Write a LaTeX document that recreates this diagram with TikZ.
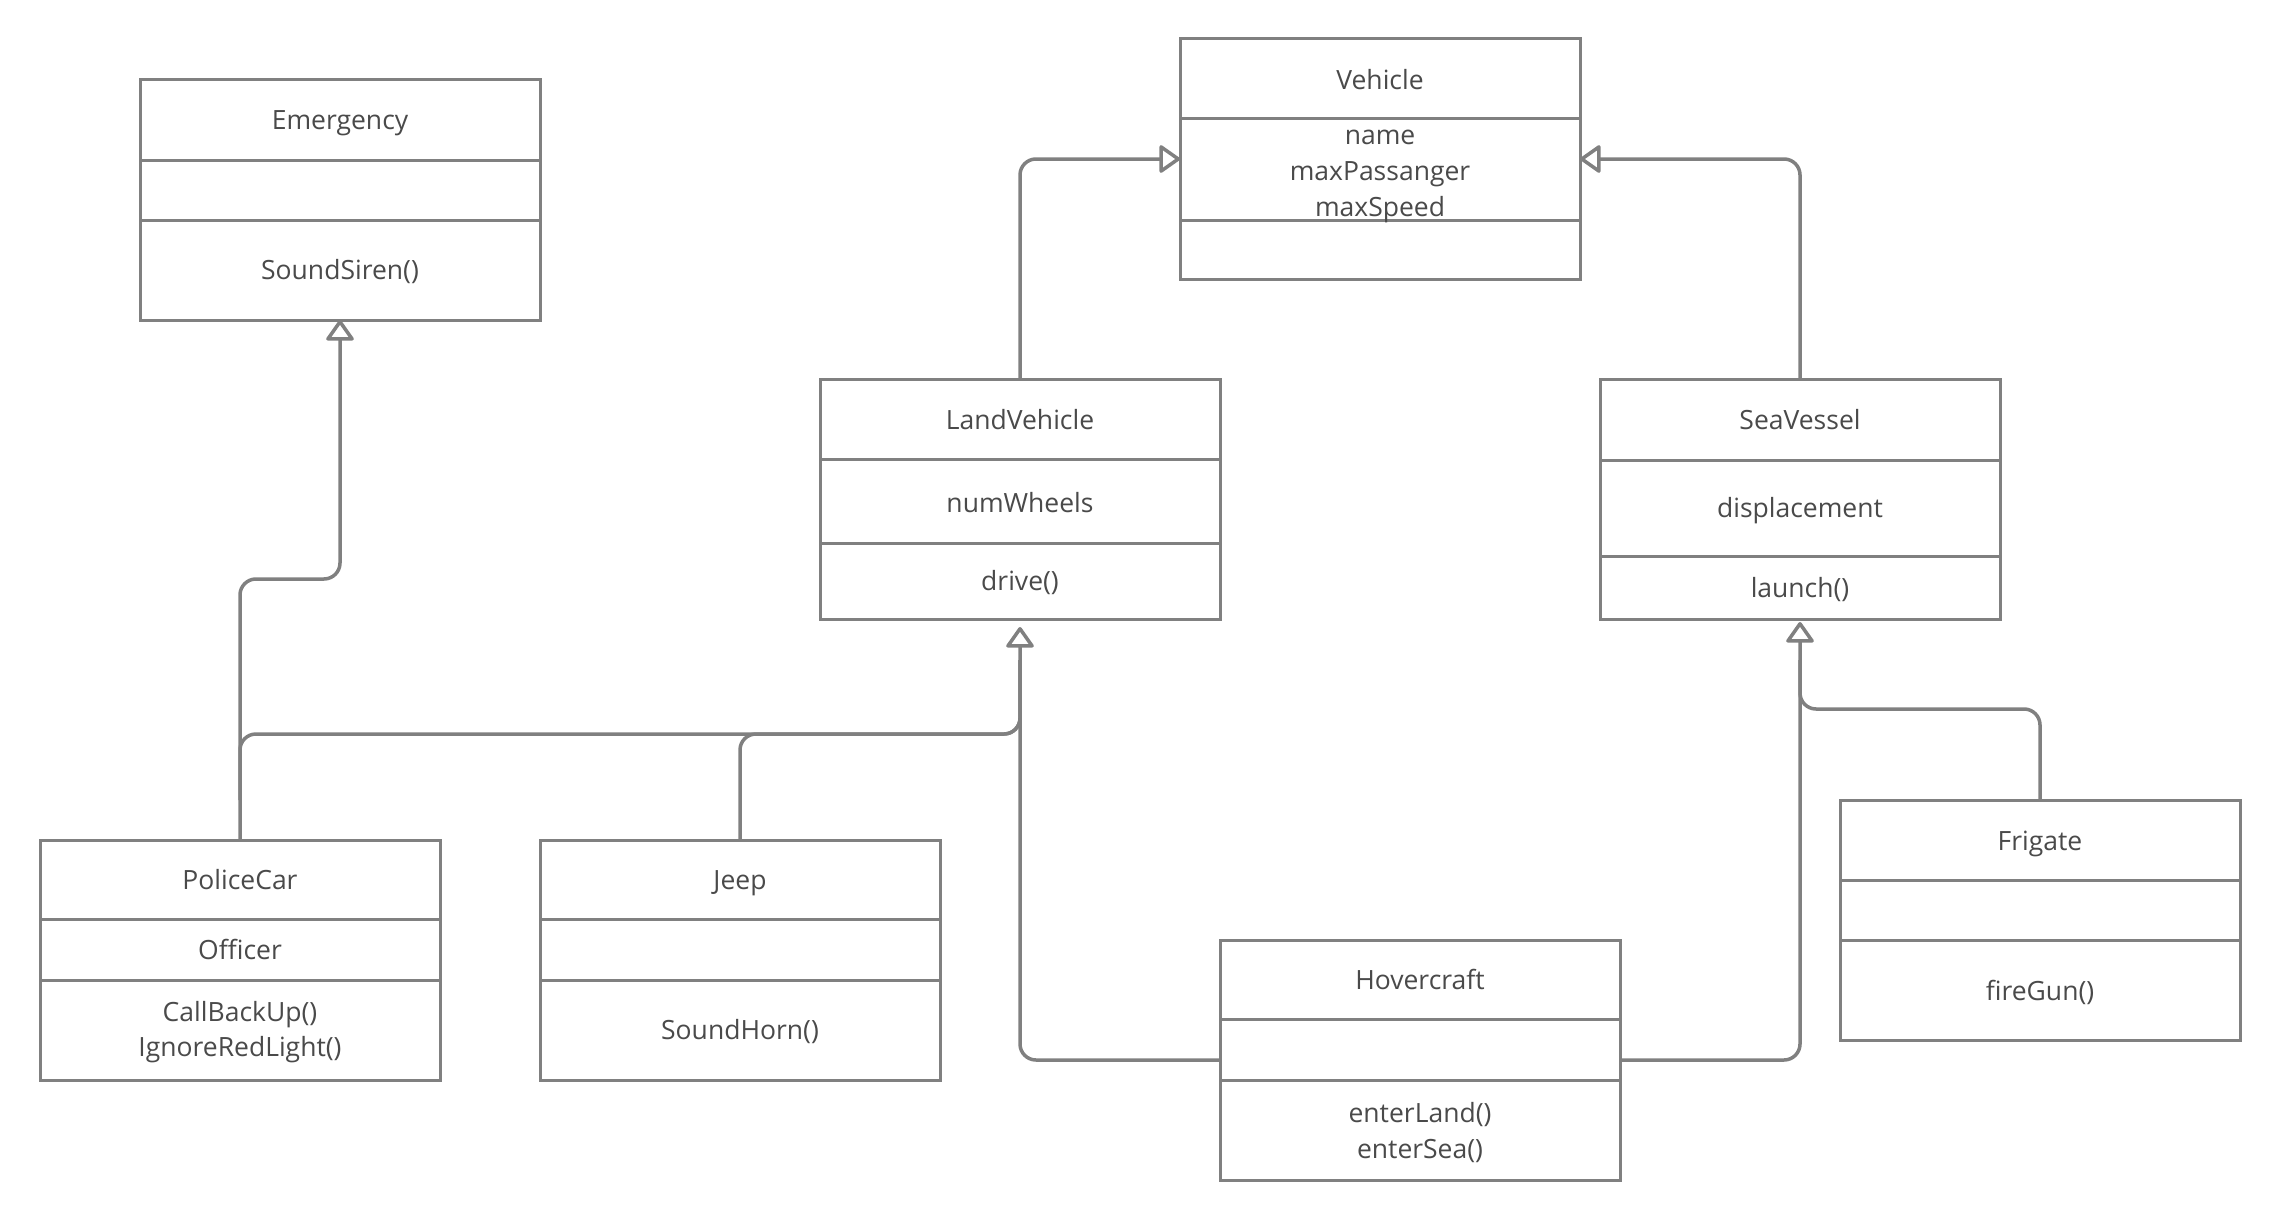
\documentclass[tikz,border=0pt]{standalone}
\usepackage{fontspec}
\setmainfont{Open Sans}
\usetikzlibrary{arrows.meta}
\definecolor{linegray}{HTML}{808080}
\definecolor{textgray}{HTML}{4A4A4A}
\tikzset{
  classbox/.style={draw=linegray, line width=3pt, minimum width=400pt, minimum height=240pt, inner sep=0pt, outer sep=0pt, fill=white},
  divider/.style={draw=linegray, line width=3pt},
  lbl/.style={text=textgray, font=\fontsize{26.5}{36}\selectfont, anchor=base, inner sep=0pt},
  conn/.style={draw=linegray, line width=3.5pt, rounded corners=16pt},
  gen/.style={conn, -{Triangle[length=22pt, width=30pt, fill=white, round]}},
}
\newcommand\clsbox[5]{%
  \node[classbox] (#1) at (#2+200,#3+120) {};
  \draw[divider] (#2,#4) -- (#2+400,#4);
  \draw[divider] (#2,#5) -- (#2+400,#5);
}
\begin{document}
\begin{tikzpicture}[x=1pt,y=-1pt]
\useasboundingbox[fill=white] (0,0) rectangle (2280,1220);

% Emergency
\clsbox{em}{140}{80}{160}{220}
\node[lbl] (em-t) at (340,129) {Emergency};
\node[lbl] (em-m1) at (340,279) {SoundSiren()};

% Vehicle
\clsbox{ve}{1180}{39}{119}{220}
\node[lbl] (ve-t) at (1380,90) {Vehicle};
\node[lbl] (ve-a1) at (1380,144) {name};
\node[lbl] (ve-a2) at (1380,180) {maxPassanger};
\node[lbl] (ve-a3) at (1380,216) {maxSpeed};

% LandVehicle
\clsbox{lv}{820}{379}{459}{543}
\node[lbl] (lv-t) at (1020,429) {LandVehicle};
\node[lbl] (lv-a1) at (1020,512) {numWheels};
\node[lbl] (lv-m1) at (1020,590) {drive()};

% SeaVessel
\clsbox{sv}{1600}{379}{460}{556}
\node[lbl] (sv-t) at (1800,429) {SeaVessel};
\node[lbl] (sv-a1) at (1800,517) {displacement};
\node[lbl] (sv-m1) at (1800,597) {launch()};

% PoliceCar
\clsbox{pc}{40}{840}{919}{980}
\node[lbl] (pc-t) at (240,889) {PoliceCar};
\node[lbl] (pc-a1) at (240,959) {Officer};
\node[lbl] (pc-m1) at (240,1021) {CallBackUp()};
\node[lbl] (pc-m2) at (240,1056) {IgnoreRedLight()};

% Jeep
\clsbox{jp}{540}{840}{919}{980}
\node[lbl] (jp-t) at (740,889) {Jeep};
\node[lbl] (jp-m1) at (740,1039) {SoundHorn()};

% Hovercraft
\clsbox{hc}{1220}{940}{1019}{1080}
\node[lbl] (hc-t) at (1420,989) {Hovercraft};
\node[lbl] (hc-m1) at (1420,1122) {enterLand()};
\node[lbl] (hc-m2) at (1420,1158) {enterSea()};

% Frigate
\clsbox{fr}{1840}{800}{880}{940}
\node[lbl] (fr-t) at (2040,850) {Frigate};
\node[lbl] (fr-m1) at (2040,1000) {fireGun()};

% connectors
\coordinate (lvtip) at (1020,627);
\coordinate (svtip) at (1800,622);
\coordinate (lvbase) at (1020,660);
\coordinate (svbase) at (1800,660);
\coordinate (pcbranch) at (240,800);

\draw[conn] (pcbranch) -- (240,734) -- (1020,734) -- (lvbase);
\draw[conn] (jp.north) -- (740,734) -- (1020,734) -- (lvbase);
\draw[conn] (fr.north) -- (2040,709) -- (1800,709) -- (svbase);
\draw[gen] (hc.west) -| (lvtip);
\draw[gen] (hc.east) -| (svtip);
\draw[gen] (pc.north) -- (240,579) -- (340,579) -- (em.south);
\draw[gen] (lv.north) |- (ve.west);
\draw[gen] (sv.north) |- (ve.east);
\end{tikzpicture}
\end{document}
